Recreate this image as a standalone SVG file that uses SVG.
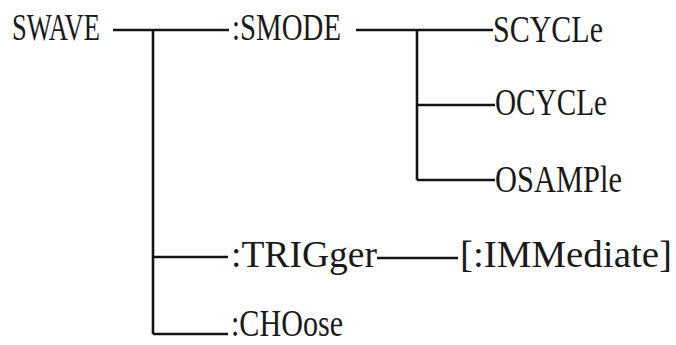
<svg xmlns="http://www.w3.org/2000/svg" width="676" height="345" viewBox="0 0 676 345">
<style>
text{font-family:"Liberation Serif","DejaVu Serif",serif;font-size:38px;fill:#1a1a1a}
.c{stroke:#141414;stroke-width:2.6;fill:none}
</style>
<rect width="676" height="345" fill="#fff"/>
<g id="connectors">
<path class="c" d="M113 30H229M153 30V334M153 257H228M153 334H228M356 30H493M417 30V180M417 105H495M417 180H495M377 258H458"/>
</g>
<g id="swave"><text x="12" y="40" textLength="88" lengthAdjust="spacingAndGlyphs">SWAVE</text></g>
<g id="smode"><text x="232" y="40" textLength="109" lengthAdjust="spacingAndGlyphs">:SMODE</text></g>
<g id="scycle"><text x="493" y="42" textLength="110" lengthAdjust="spacingAndGlyphs">SCYCLe</text></g>
<g id="ocycle"><text x="495" y="115" textLength="112" lengthAdjust="spacingAndGlyphs">OCYCLe</text></g>
<g id="osample"><text x="495" y="192" textLength="127" lengthAdjust="spacingAndGlyphs">OSAMPle</text></g>
<g id="trigger"><text x="231" y="267" textLength="146" lengthAdjust="spacingAndGlyphs">:TRIGger</text></g>
<g id="immediate"><text x="460" y="267" textLength="212" lengthAdjust="spacingAndGlyphs">[:IMMediate]</text></g>
<g id="choose"><text x="231" y="336" textLength="112" lengthAdjust="spacingAndGlyphs">:CHOose</text></g>
</svg>
